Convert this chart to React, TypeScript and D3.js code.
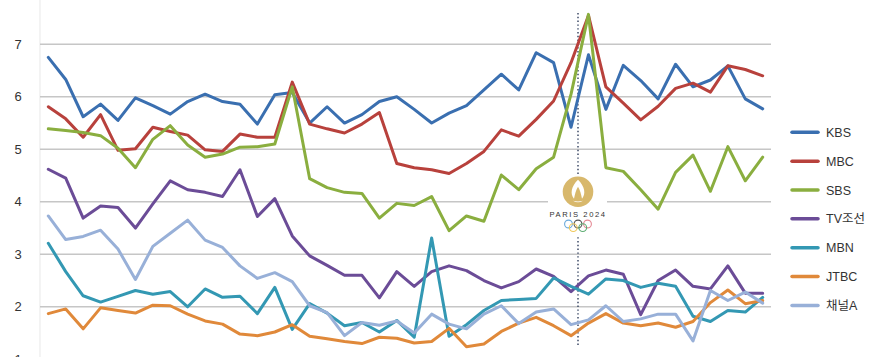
import React from "react";
import * as d3 from "d3";

const seriesNames = ["KBS", "MBC", "SBS", "TV조선", "MBN", "JTBC", "채널A"];
const seriesColors = ["#3a6fb0", "#b8413c", "#8aae3f", "#6b4c97", "#3398b3", "#e0893a", "#98b0d8"];

const kbs = [6.75,6.33,5.62,5.86,5.55,5.98,5.83,5.67,5.91,6.05, 5.91,5.86,5.48,6.04,6.08,5.5,5.81,5.5,5.66,5.91, 6.0,5.76,5.5,5.69,5.83,6.13,6.43,6.13,6.84,6.65, 5.42,6.8,5.76,6.6,6.31,5.96,6.62,6.19,6.32,6.59,5.96,5.77];
const mbc = [5.81,5.58,5.23,5.66,4.98,5.01,5.42,5.34,5.27,4.99, 4.96,5.29,5.23,5.23,6.28,5.48,5.39,5.31,5.48,5.7, 4.73,4.65,4.61,4.54,4.73,4.96,5.37,5.25,5.57,5.92, 6.65,7.55,6.19,5.88,5.56,5.82,6.16,6.26,6.09,6.59,6.52,6.4];
const sbs = [5.39,5.36,5.32,5.26,5.02,4.65,5.19,5.45,5.08,4.85, 4.91,5.04,5.05,5.1,6.19,4.44,4.27,4.18,4.16,3.69, 3.97,3.93,4.1,3.45,3.73,3.63,4.51,4.23,4.63,4.85, 6.05,7.57,4.65,4.58,4.23,3.86,4.56,4.89,4.2,5.05,4.4,4.85];
const tvc = [4.62,4.45,3.69,3.92,3.89,3.5,3.96,4.4,4.23,4.18, 4.1,4.61,3.72,4.06,3.35,2.97,2.79,2.6,2.6,2.17, 2.67,2.39,2.67,2.78,2.69,2.5,2.36,2.48,2.72,2.58, 2.29,2.59,2.7,2.62,1.85,2.5,2.7,2.39,2.34,2.78,2.26,2.26];
const mbn = [3.21,2.67,2.21,2.09,2.2,2.31,2.24,2.29,2.0,2.34, 2.18,2.2,1.87,2.37,1.57,2.06,1.88,1.64,1.7,1.52, 1.74,1.42,3.31,1.44,1.66,1.93,2.12,2.14,2.16,2.55, 2.39,2.24,2.53,2.5,2.37,2.45,2.39,1.82,1.72,1.93,1.9,2.18];
const jtbc = [1.87,1.96,1.58,1.98,1.93,1.88,2.03,2.02,1.86,1.73, 1.67,1.48,1.45,1.52,1.66,1.44,1.39,1.34,1.3,1.42, 1.4,1.31,1.34,1.59,1.24,1.29,1.53,1.69,1.8,1.64, 1.45,1.69,1.87,1.69,1.64,1.69,1.61,1.72,2.08,2.32,2.06,2.12];
const channelA = [3.73,3.28,3.34,3.46,3.1,2.52,3.15,3.4,3.65,3.27, 3.13,2.78,2.54,2.65,2.48,2.02,1.89,1.45,1.7,1.65, 1.73,1.5,1.86,1.67,1.58,1.86,2.02,1.68,1.9,1.96, 1.66,1.75,2.02,1.72,1.77,1.86,1.86,1.35,2.31,2.12,2.28,2.07];

const seriesValues = [kbs, mbc, sbs, tvc, mbn, jtbc, channelA];
const yTicks = [1, 2, 3, 4, 5, 6, 7];
const markerIndex = 30.4; // Paris 2024 opening
const logoText = "PARIS 2024";

const W = 870;
const H = 357;
const FONT = "'Liberation Sans', 'Noto Sans CJK KR', sans-serif";

export default function App() {
  const n = kbs.length;
  const x = d3.scaleLinear().domain([0, n - 1]).range([48.3, 762.7]);
  const y = d3.scaleLinear().domain([1, 7]).range([359.3, 44.3]);
  const line = d3
    .line<number>()
    .x((_, i) => x(i))
    .y((d) => y(d));

  const mx = x(markerIndex);
  const logoCx = mx;
  const logoCy = 191.7;

  const rings = [
    { dx: -9.5, dy: 0, c: "#6aa9dc" },
    { dx: 0, dy: 0, c: "#555555" },
    { dx: 9.5, dy: 0, c: "#e58a95" },
    { dx: -4.75, dy: 3.6, c: "#f0c95a" },
    { dx: 4.75, dy: 3.6, c: "#5fae74" },
  ];

  return (
    <svg
      width={W}
      height={H}
      style={{ position: "absolute", left: 0, top: 0, background: "#fff" }}
      fontFamily={FONT}
    >
      {/* faint y axis line */}
      <line x1={40} x2={40} y1={0} y2={H} stroke="#ececec" strokeWidth={1.2} />
      {/* gridlines */}
      {yTicks.map((t) => (
        <line
          key={"g" + t}
          x1={40}
          x2={771}
          y1={y(t)}
          y2={y(t)}
          stroke="#c6c6c6"
          strokeWidth={1.5}
        />
      ))}
      {yTicks.map((t) => (
        <text
          key={"t" + t}
          x={18}
          y={y(t)}
          dy="0.36em"
          textAnchor="middle"
          fontSize={13}
          fill="#333"
        >
          {t}
        </text>
      ))}
      {/* marker dotted line */}
      <line
        x1={mx}
        x2={mx}
        y1={13}
        y2={346}
        stroke="#2f3e5c"
        strokeWidth={1.4}
        strokeDasharray="1.4 2.4"
      />
      {/* logo with white background */}
      <rect x={548} y={176} width={59} height={60} fill="#fff" />
      <circle cx={logoCx} cy={logoCy} r={15.3} fill="#d8b86c" />
      <path
        d={`M${logoCx},${logoCy - 12} C${logoCx - 7},${logoCy - 5} ${logoCx - 8},${logoCy + 2} ${logoCx - 4},${logoCy + 7} C${logoCx - 3},${logoCy + 2} ${logoCx - 2},${logoCy - 2} ${logoCx},${logoCy - 5} C${logoCx + 2},${logoCy - 2} ${logoCx + 3},${logoCy + 2} ${logoCx + 4},${logoCy + 7} C${logoCx + 8},${logoCy + 2} ${logoCx + 7},${logoCy - 5} ${logoCx},${logoCy - 12} Z`}
        fill="#fff"
      />
      <path
        d={`M${logoCx - 5},${logoCy + 9} Q${logoCx},${logoCy + 12} ${logoCx + 5},${logoCy + 9} Q${logoCx},${logoCy + 10.5} ${logoCx - 5},${logoCy + 9} Z`}
        fill="#fff"
      />
      <text
        x={logoCx}
        y={216.5}
        textAnchor="middle"
        fontSize={7.6}
        letterSpacing={1.6}
        fill="#333"
      >
        {logoText}
      </text>
      {rings.map((r, i) => (
        <circle
          key={"r" + i}
          cx={logoCx + r.dx}
          cy={224 + r.dy}
          r={3.9}
          fill="none"
          stroke={r.c}
          strokeWidth={1.1}
        />
      ))}
      {/* series lines */}
      {seriesValues.map((vals, si) => (
        <path
          key={"s" + si}
          d={line(vals) || ""}
          fill="none"
          stroke={seriesColors[si]}
          strokeWidth={3}
          strokeLinejoin="round"
          strokeLinecap="round"
        />
      ))}
      {/* legend */}
      {seriesNames.map((name, i) => {
        const ly = 132.3 + i * 28.85;
        return (
          <g key={"l" + i}>
            <line
              x1={792}
              x2={818}
              y1={ly}
              y2={ly}
              stroke={seriesColors[i]}
              strokeWidth={3.5}
              strokeLinecap="round"
            />
            <text x={826} y={ly} dy="0.36em" fontSize={12.5} fill="#333">
              {name}
            </text>
          </g>
        );
      })}
    </svg>
  );
}
